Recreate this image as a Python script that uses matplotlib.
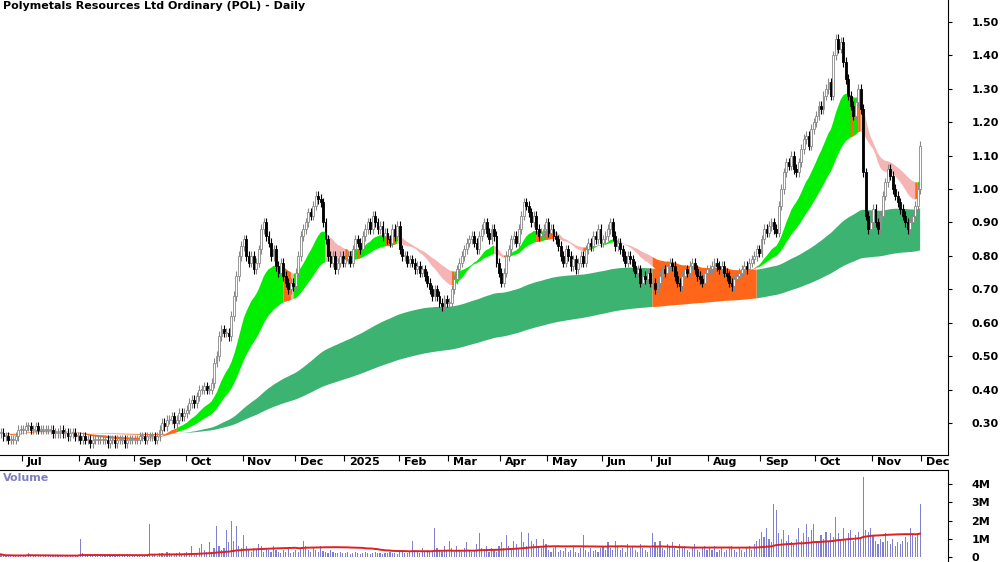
import numpy as np
import pandas as pd
from matplotlib import pyplot as plt
from matplotlib.patches import Rectangle

# daily closes, one list per month (Jun 2024 .. Nov 2025)
jun24 = [0.27, 0.26, 0.26, 0.25, 0.25, 0.25, 0.26, 0.28, 0.28]
jul24 = [0.28, 0.29, 0.29, 0.28, 0.28, 0.29, 0.28, 0.28, 0.28, 0.28, 0.28, 0.28, 0.27, 0.27, 0.27, 0.28,
         0.27, 0.27, 0.26, 0.27, 0.27, 0.26, 0.26]
aug24 = [0.25, 0.26, 0.25, 0.25, 0.24, 0.25, 0.25, 0.25, 0.25, 0.25, 0.25, 0.24, 0.25, 0.25, 0.24, 0.25,
         0.25, 0.25, 0.24, 0.25, 0.25, 0.25]
sep24 = [0.25, 0.25, 0.26, 0.26, 0.25, 0.26, 0.26, 0.26, 0.25, 0.26, 0.28, 0.30, 0.29, 0.31, 0.31, 0.32,
         0.30, 0.31, 0.33, 0.32, 0.33]
oct24 = [0.34, 0.36, 0.37, 0.36, 0.38, 0.40, 0.40, 0.41, 0.40, 0.40, 0.42, 0.48, 0.50, 0.56, 0.58, 0.57,
         0.57, 0.56, 0.62, 0.68, 0.74, 0.80, 0.83]
nov24 = [0.85, 0.80, 0.78, 0.80, 0.76, 0.78, 0.82, 0.88, 0.90, 0.86, 0.84, 0.80, 0.82, 0.77, 0.75, 0.78,
         0.74, 0.72, 0.70, 0.72, 0.71]
dec24 = [0.75, 0.80, 0.86, 0.88, 0.90, 0.93, 0.92, 0.95, 0.98, 0.97, 0.96, 0.90, 0.85, 0.80, 0.78, 0.80,
         0.76, 0.78, 0.80, 0.78]
jan25 = [0.79, 0.80, 0.78, 0.82, 0.85, 0.84, 0.82, 0.86, 0.88, 0.90, 0.88, 0.92, 0.90, 0.88, 0.89, 0.86,
         0.87, 0.85, 0.84, 0.88, 0.86, 0.89]
feb25 = [0.82, 0.80, 0.80, 0.78, 0.79, 0.78, 0.76, 0.77, 0.75, 0.76, 0.74, 0.72, 0.70, 0.68, 0.70, 0.68,
         0.66, 0.65, 0.67, 0.66]
mar25 = [0.66, 0.70, 0.73, 0.76, 0.78, 0.80, 0.82, 0.84, 0.85, 0.86, 0.84, 0.82, 0.86, 0.88, 0.90, 0.87,
         0.85, 0.88, 0.86, 0.78, 0.75]
apr25 = [0.72, 0.75, 0.80, 0.82, 0.85, 0.86, 0.84, 0.88, 0.92, 0.96, 0.95, 0.93, 0.90, 0.92, 0.88, 0.86,
         0.87, 0.88, 0.90]
may25 = [0.87, 0.88, 0.86, 0.85, 0.83, 0.80, 0.78, 0.82, 0.80, 0.77, 0.79, 0.76, 0.78, 0.80, 0.78, 0.82,
         0.84, 0.83, 0.86, 0.85, 0.88, 0.84]
jun25 = [0.85, 0.86, 0.88, 0.90, 0.86, 0.83, 0.84, 0.82, 0.80, 0.78, 0.80, 0.79, 0.77, 0.75, 0.76, 0.72,
         0.74, 0.73, 0.75, 0.72]
jul25 = [0.72, 0.70, 0.72, 0.74, 0.76, 0.75, 0.77, 0.78, 0.77, 0.74, 0.72, 0.71, 0.74, 0.76, 0.75, 0.77,
         0.78, 0.76, 0.74, 0.73, 0.72, 0.75, 0.76]
aug25 = [0.76, 0.77, 0.78, 0.77, 0.76, 0.77, 0.75, 0.74, 0.72, 0.71, 0.73, 0.74, 0.75, 0.76, 0.77, 0.76,
         0.78, 0.79, 0.80, 0.82, 0.81]
sep25 = [0.85, 0.88, 0.87, 0.89, 0.90, 0.88, 0.87, 0.95, 1.00, 1.05, 1.08, 1.07, 1.10, 1.06, 1.05, 1.08,
         1.12, 1.15, 1.16, 1.13, 1.18, 1.20]
oct25 = [1.22, 1.25, 1.24, 1.28, 1.30, 1.32, 1.28, 1.40, 1.45, 1.42, 1.44, 1.38, 1.33, 1.28, 1.25, 1.22,
         1.26, 1.30, 1.24, 1.05, 0.92, 0.88, 0.90]
nov25 = [0.94, 0.90, 0.88, 0.92, 0.98, 1.02, 1.06, 1.04, 1.00, 0.98, 0.96, 0.94, 0.92, 0.90, 0.88, 0.90,
         0.92, 0.95, 1.00, 1.13]
months = [jun24, jul24, aug24, sep24, oct24, nov24, dec24, jan25, feb25, mar25, apr25, may25, jun25, jul25,
          aug25, sep25, oct25, nov25]
month_names = ['Jun', 'Jul', 'Aug', 'Sep', 'Oct', 'Nov', 'Dec', '2025', 'Feb', 'Mar', 'Apr', 'May', 'Jun',
               'Jul', 'Aug', 'Sep', 'Oct', 'Nov', 'Dec']

# daily volume in thousands, same month layout
vol_jun24 = [150, 80, 60, 100, 90, 70, 60, 120, 80]
vol_jul24 = [100, 60, 250, 80, 60, 90, 50, 70, 60, 80, 50, 60, 90, 70, 60, 50, 80, 60, 70, 50, 90, 60, 80]
vol_aug24 = [1000, 200, 120, 80, 150, 100, 60, 180, 90, 70, 60, 120, 100, 80, 90, 60, 150, 70, 80, 100,
             60, 90]
vol_sep24 = [80, 100, 70, 60, 120, 90, 1800, 150, 100, 80, 200, 250, 150, 300, 200, 180, 120, 250, 300,
             150, 200]
vol_oct24 = [300, 200, 600, 250, 200, 500, 700, 400, 300, 800, 300, 500, 1700, 600, 400, 500, 1500, 800,
             2000, 900, 1700, 600, 500]
vol_nov24 = [1200, 600, 400, 300, 500, 400, 700, 600, 300, 500, 400, 300, 600, 400, 300, 250, 400, 300,
             500, 200, 300]
vol_dec24 = [400, 300, 500, 900, 600, 400, 300, 500, 400, 300, 600, 350, 300, 200, 400, 300, 250, 200,
             300, 250]
vol_jan25 = [200, 300, 150, 250, 300, 200, 150, 250, 300, 200, 150, 200, 300, 250, 200, 150, 250, 200,
             300, 200, 250, 150]
vol_feb25 = [300, 400, 200, 250, 300, 900, 400, 300, 250, 500, 300, 400, 350, 300, 1600, 500, 400, 300,
             600, 400]
vol_mar25 = [900, 500, 300, 600, 400, 300, 500, 800, 400, 300, 350, 700, 1300, 500, 400, 600, 300, 500,
             400, 300, 600]
vol_apr25 = [800, 500, 1200, 600, 400, 900, 700, 500, 1400, 800, 600, 1300, 900, 700, 1000, 600, 500,
             1000, 700]
vol_may25 = [400, 300, 500, 600, 300, 400, 350, 500, 300, 400, 600, 300, 250, 500, 1200, 400, 300, 500,
             350, 400, 300, 500]
vol_jun25 = [600, 400, 800, 500, 400, 900, 600, 400, 500, 300, 700, 500, 600, 400, 300, 700, 500, 400,
             300, 500]
vol_jul25 = [1300, 800, 600, 900, 500, 400, 700, 600, 800, 500, 400, 700, 500, 600, 400, 300, 500, 700,
             400, 300, 500, 600, 400]
vol_aug25 = [500, 400, 600, 300, 400, 500, 300, 400, 500, 600, 400, 300, 500, 400, 300, 500, 600, 400,
             700, 900, 1000]
vol_sep25 = [1400, 1100, 1600, 1000, 800, 2900, 2600, 1300, 1000, 1500, 900, 1200, 800, 700, 1000, 1600,
             900, 1300, 1800, 1100, 1500, 1800]
vol_oct25 = [900, 800, 1200, 1000, 1400, 900, 1300, 1100, 2200, 1300, 900, 1600, 1000, 1300, 1500, 900,
             1200, 1400, 1100, 4400, 1500, 1400, 1600]
vol_nov25 = [1200, 900, 700, 1000, 800, 1300, 900, 700, 1000, 600, 800, 700, 900, 1100, 800, 1600, 1200,
             1100, 1300, 2900]

closes = np.array(sum(months, []))
volume = np.array(vol_jun24 + vol_jul24 + vol_aug24 + vol_sep24 + vol_oct24 + vol_nov24 + vol_dec24
                  + vol_jan25 + vol_feb25 + vol_mar25 + vol_apr25 + vol_may25 + vol_jun25 + vol_jul25
                  + vol_aug25 + vol_sep25 + vol_oct25 + vol_nov25, dtype=float) / 1000.0
n = len(closes)
x = np.arange(n)
opens = np.r_[closes[0], closes[:-1]]

# month boundaries from the month lists
starts = np.cumsum([0] + [len(m) for m in months])[1:]

short_spans = [18, 22, 26, 30, 34, 40]
long_spans = [150, 175, 200, 225, 250, 300]
s = pd.Series(closes)
short = np.array([s.ewm(span=k, adjust=False).mean().values for k in short_spans])
long_ = np.array([s.ewm(span=k, adjust=False).mean().values for k in long_spans])
s_lo, s_hi = short.min(0), short.max(0)
l_lo, l_hi = long_.min(0), long_.max(0)

GREEN, PINK, ORANGE, DKGREEN = '#00ee00', '#f5b5b5', '#ff6619', '#3cb371'
mid = short.mean(0)
slope = np.r_[0, np.diff(mid)]
overlap = s_lo < l_hi + 0.005
rising = (slope > 0.0008) & ~overlap
falling = (slope < -0.0008) & ~overlap
flat = ~rising & ~falling


def grow(m):
    return m | np.r_[m[1:], False]


fig = plt.figure(figsize=(10, 5.62), dpi=100)
ax = fig.add_axes([0, 1 - 455 / 562, 0.948, 455 / 562])
axv = fig.add_axes([0, 0, 0.948, 92 / 562])

# long ribbon
ax.fill_between(x, l_lo, l_hi, where=grow(~overlap), color=DKGREEN, lw=0, zorder=1)
ax.fill_between(x, l_lo, l_hi, where=grow(overlap), color=ORANGE, lw=0, zorder=1)
# short ribbon
for m, col in [(rising, GREEN), (falling, PINK), (flat, ORANGE)]:
    ax.fill_between(x, s_lo, s_hi, where=grow(m), color=col, lw=0, zorder=2)

# candles
wick = 0.014
for i in range(n):
    o, c = opens[i], closes[i]
    lo, hi = min(o, c), max(o, c)
    up = c >= o
    ax.vlines(x[i], lo - wick, hi + wick, color='#888888' if up else 'black', lw=0.8, zorder=3)
    ax.add_patch(Rectangle((x[i] - 0.38, lo), 0.76, max(hi - lo, 0.003),
                           facecolor='white' if up else 'black',
                           edgecolor='#888888' if up else 'black', lw=0.6, zorder=4))

px_per_day = 2.48
xmax = 948 / px_per_day
ax.set_xlim(-0.4, xmax)
ax.set_ylim(0.204, 1.566)
ax.yaxis.tick_right()
yt = np.arange(0.3, 1.51, 0.1)
ax.set_yticks(yt)
ax.set_yticklabels([f'{v:.2f}' for v in yt], fontsize=8, fontweight='bold')
ax.tick_params(axis='y', length=3, pad=14)
for sp in ['top', 'left']:
    ax.spines[sp].set_visible(False)

ax.set_xticks(starts - 0.5)
ax.set_xticklabels([])
ax.tick_params(axis='x', direction='out', length=4)
for p, t in zip(starts, month_names[1:]):
    ax.text(p + 1.5, 0.204 - 0.005, t, fontsize=8, fontweight='bold', ha='left', va='top')

ax.text(0.003, 0.997, 'Polymetals Resources Ltd Ordinary (POL) - Daily', transform=ax.transAxes,
        fontsize=8, fontweight='bold', ha='left', va='top')

# volume panel
axv.bar(x, volume, width=0.45, color='#8080d0', zorder=2)
vol_ma = pd.Series(volume).rolling(60, min_periods=1).mean()
axv.plot(x, vol_ma, color='#e02020', lw=1.4, zorder=3)
axv.set_xlim(-0.4, xmax)
axv.set_ylim(-0.27, 4.77)
axv.yaxis.tick_right()
axv.set_yticks([0, 1, 2, 3, 4])
axv.set_yticklabels(['0', '1M', '2M', '3M', '4M'], fontsize=8, fontweight='bold')
axv.tick_params(axis='y', length=3, pad=14)
axv.set_xticks([])
for sp in ['bottom', 'left']:
    axv.spines[sp].set_visible(False)
axv.text(0.003, 0.97, 'Volume', transform=axv.transAxes, fontsize=8, fontweight='bold',
         color='#7f7fbf', ha='left', va='top')

fig.savefig('out.png', dpi=100)
